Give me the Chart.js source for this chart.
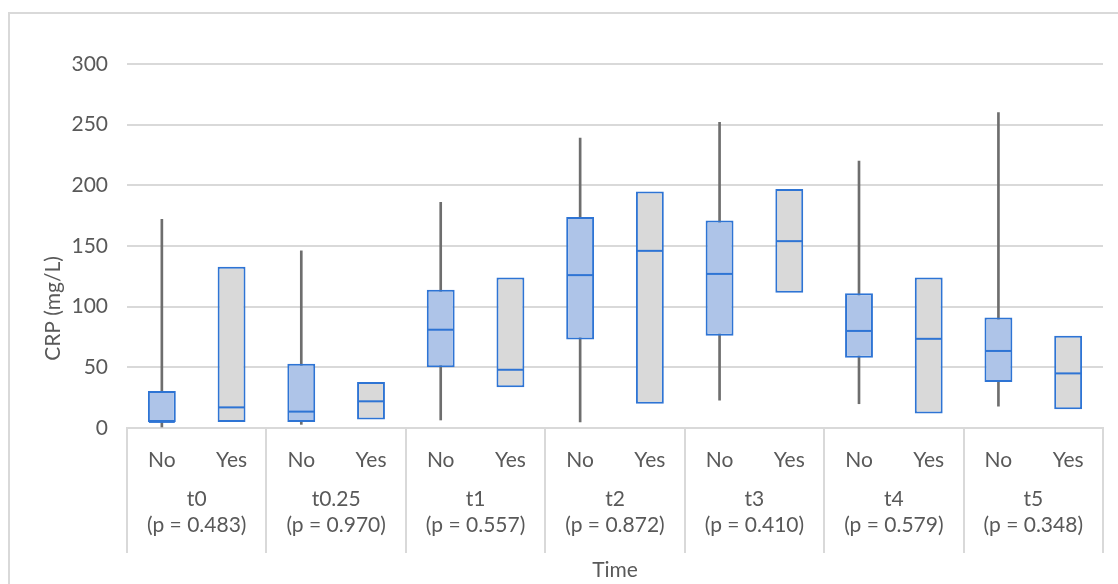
<!DOCTYPE html>
<html>
<head>
<meta charset="utf-8">
<script src="https://cdn.jsdelivr.net/npm/chart.js@4.4.1/dist/chart.umd.min.js"></script>
<style>
  html, body { margin: 0; padding: 0; background: #ffffff; overflow: hidden; }
  #wrap { position: relative; width: 1118px; height: 584px; }
  #frame { position: absolute; left: 8px; top: 12px; width: 1200px; height: 700px;
           border-left: 2px solid #d9d9d9; border-top: 2px solid #d9d9d9; box-sizing: border-box; }
  canvas { position: absolute; left: 0; top: 0; }
</style>
</head>
<body>
<div id="wrap">
  <div id="frame"></div>
  <canvas id="c" width="1118" height="584"></canvas>
</div>
<script>
// ---- data ----
const groups = ["t0", "t0.25", "t1", "t2", "t3", "t4", "t5"];
const pValues = ["(p = 0.483)", "(p = 0.970)", "(p = 0.557)", "(p = 0.872)", "(p = 0.410)", "(p = 0.579)", "(p = 0.348)"];
const subLabels = ["No", "Yes", "No", "Yes", "No", "Yes", "No", "Yes", "No", "Yes", "No", "Yes", "No", "Yes"];
// whisker ends (null where the reference shows no whisker)
const minVals    = [0,    null, 3,    null, 6.6, null, 5,   null, 23,  null,  20,  null, 18,   null];
const maxVals    = [172,  null, 146,  null, 186, null, 239, null, 252, null,  220, null, 260,  null];
const q1Vals     = [5,    5,    5,    7,    50,  33.5, 73,  20,   76,  111.5, 58,  12,   38,   15.4];
const medianVals = [5,    17,   13.5, 22,   81,  48,   126, 146,  127, 154,   80,  73.5, 63.5, 45];
const q3Vals     = [30.5, 133,  53,   38,   114, 124,  174, 195,  171, 197,   111, 124,  91,   76];
const yTicks = [0, 50, 100, 150, 200, 250, 300];

const FONT = "Lato, 'Open Sans', sans-serif";
const FS = 21;
const TEXT = "#595959";
const GRID = "#d9d9d9";

const boxData = q1Vals.map((q, i) => [q, q3Vals[i]]);
const whiskerData = minVals.map((m, i) => (m === null ? null : [m, maxVals[i]]));
const boxFill = subLabels.map(s => s === "No" ? "#aec4e8" : "#d9d9d9");
const groupLabels = groups.map((g, i) => [g, pValues[i]]);

const medianPlugin = {
  id: "medians",
  afterDatasetsDraw(chart) {
    const meta = chart.getDatasetMeta(1);
    const y = chart.scales.y;
    const ctx = chart.ctx;
    ctx.save();
    ctx.strokeStyle = "#2e74d4";
    ctx.lineWidth = 2;
    meta.data.forEach((el, i) => {
      const py = y.getPixelForValue(medianVals[i]);
      ctx.beginPath();
      ctx.moveTo(el.x - el.width / 2 + 1, py);
      ctx.lineTo(el.x + el.width / 2 - 1, py);
      ctx.stroke();
    });
    ctx.restore();
  }
};

const decorPlugin = {
  id: "decor",
  afterDraw(chart) {
    const ctx = chart.ctx;
    const x = chart.scales.x;
    const x2 = chart.scales.x2;
    const area = chart.chartArea;
    ctx.save();
    ctx.strokeStyle = GRID;
    ctx.lineWidth = 2;
    for (let g = 0; g <= groups.length; g++) {
      const px = Math.round(x.getPixelForValue(2 * g - 0.5));
      ctx.beginPath();
      ctx.moveTo(px, area.bottom);
      ctx.lineTo(px, x2.top + 71);
      ctx.stroke();
    }
    // y-axis title
    ctx.fillStyle = TEXT;
    ctx.font = FS + "px " + FONT;
    ctx.textAlign = "center";
    ctx.textBaseline = "middle";
    ctx.translate(53, (area.top + x2.top + 71) / 2);
    ctx.rotate(-Math.PI / 2);
    ctx.fillText("CRP (mg/L)", 0, 0);
    ctx.restore();
  }
};

new Chart(document.getElementById("c"), {
  type: "bar",
  data: {
    labels: subLabels,
    datasets: [
      {
        label: "range",
        data: whiskerData,
        backgroundColor: "#6e6e6e",
        borderWidth: 0,
        barThickness: 2,
        grouped: false,
        order: 2
      },
      {
        label: "IQR",
        data: boxData,
        backgroundColor: boxFill,
        borderColor: "#2e74d4",
        borderWidth: 2,
        borderSkipped: false,
        barPercentage: 0.4,
        categoryPercentage: 1,
        grouped: false,
        order: 1
      }
    ]
  },
  options: {
    responsive: false,
    animation: false,
    devicePixelRatio: 1,
    layout: { padding: { left: 0, right: 15, top: 64, bottom: 0 } },
    plugins: { legend: { display: false }, tooltip: { enabled: false } },
    scales: {
      y: {
        min: 0, max: 300,
        afterFit(s) { s.width = 127; },
        afterBuildTicks(s) { s.ticks = yTicks.map(v => ({ value: v })); },
        ticks: { color: TEXT, font: { family: FONT, size: FS }, padding: 19 },
        grid: { color: GRID, lineWidth: 2, drawTicks: false },
        border: { display: false }
      },
      x: {
        type: "category",
        offset: true,
        afterFit(s) { s.height = 54; },
        ticks: { color: TEXT, font: { family: FONT, size: FS }, padding: 20, maxRotation: 0, autoSkip: false },
        grid: { display: false, drawTicks: false },
        border: { display: true, color: GRID, width: 2 }
      },
      x2: {
        type: "category",
        position: "bottom",
        labels: groupLabels,
        offset: true,
        afterFit(s) { s.height = 102; },
        ticks: { color: TEXT, font: { family: FONT, size: FS, lineHeight: 1.25 }, padding: 4, maxRotation: 0, autoSkip: false },
        grid: { display: false, drawTicks: false },
        border: { display: false },
        title: { display: true, text: "Time", color: TEXT, font: { family: FONT, size: FS }, padding: { top: 0, bottom: 1 } }
      }
    }
  },
  plugins: [medianPlugin, decorPlugin]
});
</script>
</body>
</html>
